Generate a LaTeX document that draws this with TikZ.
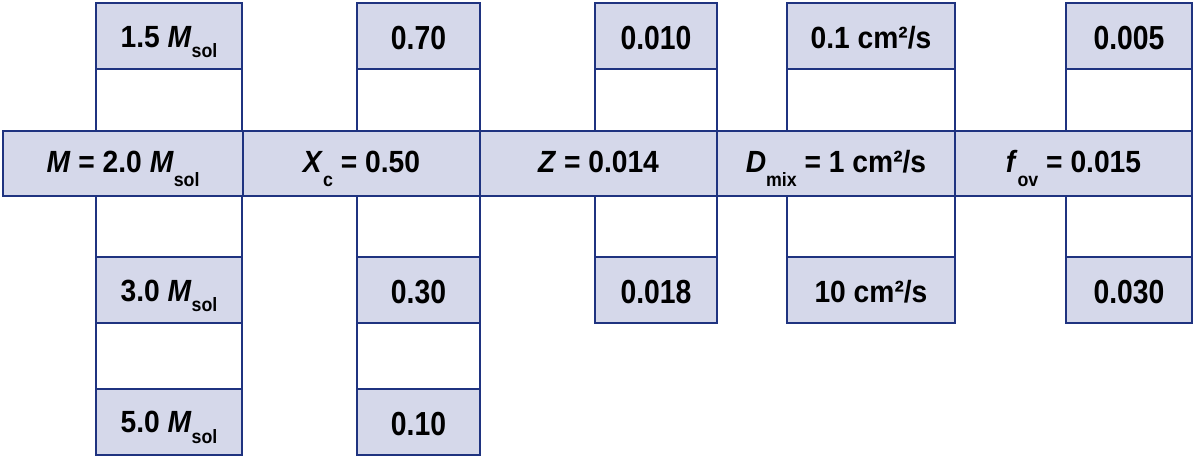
\documentclass[tikz,border=0pt]{standalone}
\usepackage{fontspec}
\setmainfont{Liberation Sans}[FakeStretch=0.92]
\newfontfamily\narrowfont{Liberation Sans}[FakeStretch=0.85]
\definecolor{bd}{HTML}{1F3380}
\definecolor{fl}{HTML}{D5D8EA}
\newcommand{\msub}[1]{\raisebox{-10pt}[0pt][0pt]{\fontsize{14.5pt}{14.5pt}\selectfont #1}}
\newcommand{\vsub}[1]{\raisebox{-8pt}[0pt][0pt]{\fontsize{14.5pt}{14.5pt}\selectfont #1}}
\begin{document}
\begin{tikzpicture}[x=0.75pt,y=-0.75pt,
  font=\fontsize{23pt}{26pt}\selectfont\bfseries,
  mainbox/.style={draw=bd, fill=fl, line width=2.2pt, minimum height=48.75pt, inner sep=0pt, outer sep=0pt,
    text height=14.2pt, text depth=0pt},
  valbox/.style={draw=bd, fill=fl, line width=1.5pt, minimum height=49.5pt, inner sep=0pt, outer sep=0pt,
    text height=15.8pt, text depth=0pt},
  numbox/.style={valbox, font=\fontsize{25pt}{28pt}\narrowfont\bfseries, text height=19.6pt},
  unitbox/.style={valbox, text height=18pt},
  conn/.style={draw=bd, line width=1.1pt}]
\useasboundingbox (0,0) rectangle (1200,459);
% value boxes
\node[valbox, minimum width=109.5pt] (a1) at (169,36.5) {1.5 \textit{M}\vsub{sol}};
\node[valbox, minimum width=109.5pt] (b1) at (169,290.5) {3.0 \textit{M}\vsub{sol}};
\node[valbox, minimum width=109.5pt] (c1) at (169,422) {5.0 \textit{M}\vsub{sol}};
\node[numbox, minimum width=92.25pt] (a2) at (418.5,36.5) {0.70};
\node[numbox, minimum width=92.25pt] (b2) at (418.5,290.5) {0.30};
\node[numbox, minimum width=92.25pt] (c2) at (418.5,422) {0.10};
\node[numbox, minimum width=91.5pt] (a3) at (656,36.5) {0.010};
\node[numbox, minimum width=91.5pt] (b3) at (656,290.5) {0.018};
\node[unitbox, minimum width=126pt] (a4) at (871,36.5) {0.1 cm²/s};
\node[unitbox, minimum width=126pt] (b4) at (871,290.5) {10 cm²/s};
\node[numbox, minimum width=94.5pt] (a5) at (1129,36.5) {0.005};
\node[numbox, minimum width=94.5pt] (b5) at (1129,290.5) {0.030};
% main boxes
\node[mainbox, minimum width=180pt] (m1) at (123,163.5) {\textit{M} = 2.0 \textit{M}\msub{sol}};
\node[mainbox, minimum width=177.75pt] (m2) at (361.5,163.5) {\textit{X}\msub{c} = 0.50};
\node[mainbox, minimum width=177.75pt] (m3) at (598.5,163.5) {\textit{Z} = 0.014};
\node[mainbox, minimum width=178.5pt] (m4) at (836,163.5) {\textit{D}\msub{mix} = 1 cm²/s};
\node[mainbox, minimum width=177.75pt] (m5) at (1073.5,163.5) {\textit{f}\msub{ov} = 0.015};
% connectors
\foreach \i in {1,...,5}{
  \draw[conn] (a\i.south west) -- (a\i.south west |- m\i.north);
  \draw[conn] (a\i.south east) -- (a\i.south east |- m\i.north);
  \draw[conn] (m\i.south -| b\i.north west) -- (b\i.north west);
  \draw[conn] (m\i.south -| b\i.north east) -- (b\i.north east);
}
\foreach \i in {1,2}{
  \draw[conn] (b\i.south west) -- (c\i.north west);
  \draw[conn] (b\i.south east) -- (c\i.north east);
}
\end{tikzpicture}
\end{document}
